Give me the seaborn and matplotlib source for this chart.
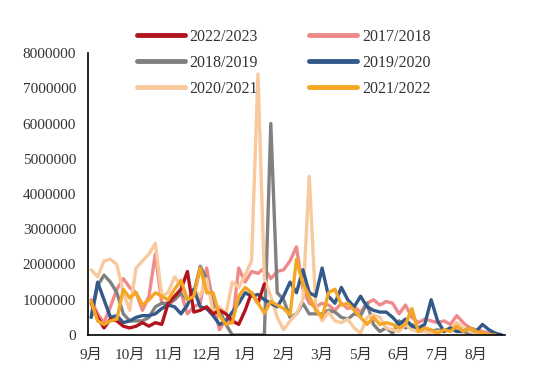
import numpy as np
import pandas as pd
import matplotlib
matplotlib.use('Agg')
import matplotlib.pyplot as plt
import seaborn as sns

sns.set_style('white')
plt.rcParams['font.family'] = ['Liberation Serif', 'Noto Sans CJK SC']

# ── DATA (values in millions) ────────────────────────────────────────────────
month_labels = ['9月', '10月', '11月', '12月', '1月', '2月', '3月', '5月', '6月', '7月', '8月']
n_periods = 65

s_2017 = [1.0, 0.6, 0.35, 0.8, 1.3, 1.6, 1.35, 1.2, 0.7, 1.1, 2.3, 0.9, 0.85, 1.0, 1.2, 0.6,
          0.8, 0.9, 1.9, 0.9, 0.15, 0.45, 0.35, 1.9, 1.5, 1.8, 1.75, 1.9, 1.6, 1.8, 1.85, 2.1,
          2.5, 1.3, 0.9, 0.8, 0.9, 0.85, 0.7, 0.9, 0.75, 0.8, 0.65, 0.9, 1.0, 0.85, 0.95, 0.9,
          0.6, 0.85, 0.5, 0.35, 0.45, 0.4, 0.35, 0.4, 0.3, 0.55, 0.35, 0.2, 0.15, 0.1, 0.05,
          0.05, 0.0]
s_2018 = [0.5, 1.4, 1.7, 1.5, 1.2, 0.6, 0.4, 0.4, 0.4, 0.5, 0.8, 0.9, 0.9, 1.0, 1.2, 1.0,
          1.2, 1.95, 1.6, 0.9, 0.7, 0.3, 0.0, 0.0, 0.0, 0.0, 0.0, 0.0, 6.0, 1.2, 1.0, 0.5,
          0.6, 0.9, 0.6, 0.6, 0.6, 0.7, 0.65, 0.5, 0.45, 0.6, 0.55, 0.9, 0.3, 0.1, 0.2, 0.05,
          0.4, 0.2, 0.3, 0.15, 0.2, 0.1, 0.15, 0.1, 0.2, 0.1, 0.1, 0.05, 0.05, 0.0]
s_2019 = [0.5, 1.5, 1.0, 0.5, 0.55, 0.35, 0.4, 0.5, 0.55, 0.55, 0.6, 0.75, 0.85, 0.8, 0.6, 0.85,
          1.3, 0.8, 0.75, 0.55, 0.3, 0.4, 0.65, 0.9, 1.2, 1.1, 1.15, 1.0, 0.9, 0.8, 1.1, 1.5,
          1.2, 1.85, 1.2, 1.1, 1.9, 1.1, 0.9, 1.35, 1.0, 0.8, 1.1, 0.8, 0.7, 0.65, 0.65, 0.5,
          0.3, 0.45, 0.25, 0.2, 0.3, 1.0, 0.4, 0.1, 0.2, 0.1, 0.1, 0.2, 0.1, 0.3, 0.15, 0.05,
          0.0]
s_2020 = [1.85, 1.65, 2.1, 2.15, 2.0, 1.2, 0.7, 1.9, 2.1, 2.3, 2.6, 1.1, 1.2, 1.65, 1.4, 1.0,
          1.3, 1.1, 1.6, 0.65, 0.8, 0.6, 1.5, 1.35, 1.7, 2.1, 7.4, 1.6, 1.1, 0.5, 0.15, 0.4,
          0.6, 1.0, 4.5, 0.85, 0.4, 0.65, 0.4, 0.35, 0.45, 0.2, 0.05, 0.5, 0.57, 0.5, 0.2, 0.15,
          0.1, 0.3, 0.15, 0.1, 0.1, 0.05, 0.1, 0.1, 0.15, 0.35, 0.2, 0.1, 0.05, 0.0]
s_2021 = [0.95, 0.4, 0.3, 0.4, 0.45, 1.3, 1.05, 1.2, 0.85, 1.0, 1.2, 1.1, 1.0, 1.3, 1.55, 1.0,
          1.1, 1.9, 1.2, 1.2, 0.55, 0.3, 0.35, 1.1, 1.35, 1.2, 0.9, 0.62, 0.95, 0.85, 0.75, 0.57,
          2.15, 1.45, 1.1, 0.7, 0.5, 1.2, 1.3, 0.85, 0.9, 0.7, 0.5, 0.3, 0.5, 0.3, 0.35, 0.3,
          0.2, 0.3, 0.75, 0.1, 0.2, 0.15, 0.05, 0.15, 0.1, 0.25, 0.1, 0.2, 0.1, 0.05, 0.0, 0.0]
s_2022 = [0.9, 0.5, 0.2, 0.45, 0.4, 0.25, 0.2, 0.25, 0.35, 0.25, 0.35, 0.3, 0.9, 1.1, 1.3, 1.8,
          0.65, 0.7, 0.8, 0.6, 0.7, 0.6, 0.4, 0.3, 0.7, 1.2, 0.9, 1.45]

series = [
    ('2017/2018', s_2017, '#EF8A8A'),
    ('2018/2019', s_2018, '#808080'),
    ('2020/2021', s_2020, '#F9C99E'),
    ('2019/2020', s_2019, '#33598A'),
    ('2022/2023', s_2022, '#B0141E'),
    ('2021/2022', s_2021, '#F5A623'),
]
legend_order = ['2022/2023', '2018/2019', '2020/2021', '2017/2018', '2019/2020', '2021/2022']

# ── PLOT ─────────────────────────────────────────────────────────────────────
fig = plt.figure(figsize=(5.5, 3.88), dpi=100)
ax = fig.add_axes([0.16, 0.1366, 0.758, 0.7268])

for name, vals, col in series:
    d = pd.DataFrame({'x': np.arange(len(vals)), 'y': np.array(vals) * 1e6})
    sns.lineplot(data=d, x='x', y='y', ax=ax, color=col, lw=2.4, label=name)

ax.set_xlim(-0.5, n_periods - 0.5)
ax.set_ylim(0, 8000000)
ax.set_yticks(np.arange(0, 8000001, 1000000))
ax.set_yticklabels([f'{v:d}' for v in range(0, 8000001, 1000000)])
ax.set_xticks(np.arange(0, 6 * len(month_labels), 6))
ax.set_xticklabels(month_labels)
ax.set_xticks(np.arange(-0.5, n_periods, 1), minor=True)
ax.tick_params(axis='x', which='major', length=0, pad=10, labelsize=11, colors='#333333')
ax.tick_params(axis='x', which='minor', direction='out', length=5, width=1, color='black')
ax.tick_params(axis='y', direction='out', length=5, width=1, color='black',
               labelsize=11, labelcolor='#333333')
ax.set_xlabel('')
ax.set_ylabel('')
for s in ['top', 'right']:
    ax.spines[s].set_visible(False)
for s in ['left', 'bottom']:
    ax.spines[s].set_color('black')
    ax.spines[s].set_linewidth(1.2)

handles, labels = ax.get_legend_handles_labels()
hmap = dict(zip(labels, handles))
ax.get_legend().remove()
leg = fig.legend([hmap[k] for k in legend_order], legend_order, ncol=2, frameon=False,
                 loc='center', bbox_to_anchor=(0.516, 0.838), fontsize=11.5,
                 handlelength=3.0, handletextpad=0.3, columnspacing=3.2, labelspacing=0.62)
for line in leg.get_lines():
    line.set_linewidth(3.5)
for t in leg.get_texts():
    t.set_color('#333333')

plt.savefig('out.png', dpi=100)
plt.close()
